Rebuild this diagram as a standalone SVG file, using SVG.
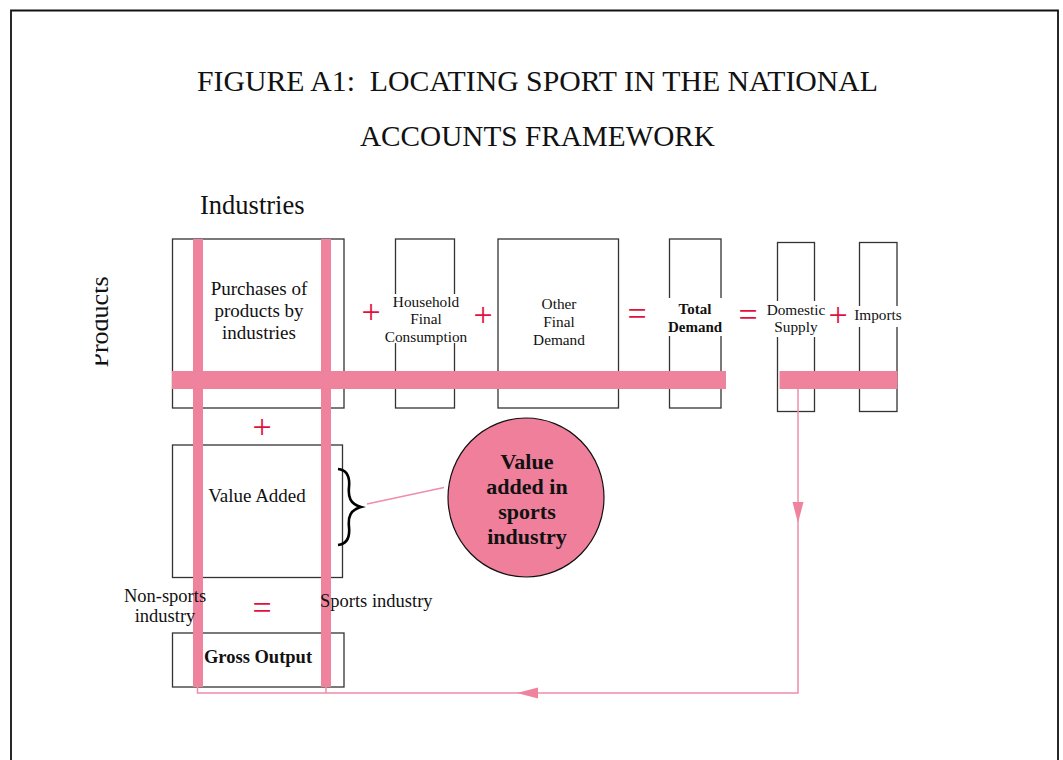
<svg xmlns="http://www.w3.org/2000/svg" width="1063" height="760" viewBox="0 0 1063 760">
  <style>
    .t { font-family: "Liberation Serif", "Times New Roman", serif; fill: #111; }
    .b { font-weight: bold; }
    .box { fill: none; stroke: #333; stroke-width: 1.3; }
    .bar { fill: #ef829d; }
    .sign { font-family: "Liberation Serif", "Times New Roman", serif; fill: #e2103f; font-size: 34px; text-anchor: middle; }
    .flow { fill: none; stroke: #f08ca8; stroke-width: 1.5; }
    .mask { fill: #fff; }
  </style>
  <defs>
    <marker id="arrow" markerUnits="userSpaceOnUse" markerWidth="22" markerHeight="12" refX="21" refY="5.5" orient="auto">
      <path d="M0,0 L21,5.5 L0,11 z" fill="#ef829d"/>
    </marker>
    <clipPath id="clipProducts">
      <rect x="95.5" y="250" width="40" height="150"/>
    </clipPath>
  </defs>

  <rect width="1063" height="760" fill="#fff"/>
  <!-- page frame -->
  <path d="M11,762 V10.5 H1058 V762" fill="none" stroke="#111" stroke-width="1.8"/>

  <!-- heading -->
  <g id="title">
    <text class="t" x="537.5" y="91" font-size="29" text-anchor="middle" textLength="681" lengthAdjust="spacingAndGlyphs">FIGURE A1:&#160; LOCATING SPORT IN THE NATIONAL</text>
    <text class="t" x="537.5" y="146" font-size="29" text-anchor="middle" textLength="355" lengthAdjust="spacingAndGlyphs">ACCOUNTS FRAMEWORK</text>
  </g>
  <g id="axis-labels">
    <text class="t" x="200" y="214" font-size="26.5">Industries</text>
    <g clip-path="url(#clipProducts)">
      <text class="t" transform="translate(108,322) rotate(-90)" font-size="26" text-anchor="middle">Products</text>
    </g>
  </g>

  <!-- boxes -->
  <g id="purchases">
    <rect class="box" x="172.5" y="239" width="171.5" height="169"/>
    <text class="t" font-size="19" text-anchor="middle"><tspan x="259" y="295">Purchases of</tspan><tspan x="259" y="317">products by</tspan><tspan x="259" y="339">industries</tspan></text>
  </g>
  <g id="household">
    <rect class="box" x="395.5" y="239" width="59" height="169"/>
    <rect class="mask" x="388" y="294" width="78" height="49"/>
    <text class="t" font-size="15.3" text-anchor="middle"><tspan x="426" y="307">Household</tspan><tspan x="426" y="324">Final</tspan><tspan x="426" y="342">Consumption</tspan></text>
  </g>
  <g id="other-demand">
    <rect class="box" x="498" y="239" width="120.5" height="169"/>
    <text class="t" font-size="15.3" text-anchor="middle"><tspan x="559" y="309">Other</tspan><tspan x="559" y="327">Final</tspan><tspan x="559" y="345">Demand</tspan></text>
  </g>
  <g id="total-demand">
    <rect class="box" x="669.5" y="239" width="51.5" height="169"/>
    <rect class="mask" x="664" y="298" width="63" height="38"/>
    <text class="t b" font-size="15" text-anchor="middle"><tspan x="695" y="314">Total</tspan><tspan x="695" y="332">Demand</tspan></text>
  </g>
  <g id="domestic-supply">
    <rect class="box" x="777.5" y="242.5" width="37" height="169"/>
    <rect class="mask" x="764" y="301" width="64" height="36"/>
    <text class="t" font-size="15.3" text-anchor="middle"><tspan x="796" y="315">Domestic</tspan><tspan x="796" y="332">Supply</tspan></text>
  </g>
  <g id="imports">
    <rect class="box" x="859.5" y="242.5" width="37.5" height="169"/>
    <rect class="mask" x="852" y="306" width="52" height="21"/>
    <text class="t" font-size="15.3" x="878" y="320" text-anchor="middle">Imports</text>
  </g>
  <g id="value-added">
    <rect class="box" x="172.5" y="445" width="170" height="132.5"/>
    <text class="t" font-size="19" x="257" y="502" text-anchor="middle">Value Added</text>
  </g>
  <g id="gross-output">
    <rect class="box" x="172.5" y="633" width="171.5" height="54"/>
    <text class="t b" font-size="18.5" x="258" y="663" text-anchor="middle">Gross Output</text>
  </g>

  <!-- operators -->
  <g id="operators">
    <text class="sign" x="371" y="323">+</text>
    <text class="sign" x="483" y="326">+</text>
    <text class="sign" x="637" y="325">=</text>
    <text class="sign" x="748" y="326">=</text>
    <text class="sign" x="838" y="326">+</text>
    <text class="sign" x="262" y="438">+</text>
    <text class="sign" x="262" y="619">=</text>
  </g>

  <!-- highlight bars: sports row and industry columns -->
  <g id="highlights">
    <rect class="bar" x="193" y="239" width="10" height="448"/>
    <rect class="bar" x="321" y="239" width="10" height="448"/>
    <rect class="bar" x="172" y="371" width="554" height="18"/>
    <rect class="bar" x="779.5" y="371" width="118" height="18"/>
  </g>

  <g id="side-labels">
    <text class="t" font-size="18.5" text-anchor="middle"><tspan x="165" y="602">Non-sports</tspan><tspan x="165" y="622">industry</tspan></text>
    <text class="t" font-size="18.5" x="320" y="607">Sports industry</text>
  </g>

  <!-- brace and callout -->
  <g id="callout">
    <path d="M338,469 C347,470 350,477 349,487 C348,497 350,504 361,507 C350,510 348,517 349,527 C350,537 347,544 338,545" fill="none" stroke="#000" stroke-width="2.6"/>
    <line x1="367" y1="504" x2="444" y2="487.5" stroke="#f08ca8" stroke-width="1.3"/>
    <ellipse cx="526" cy="497.5" rx="78" ry="79.5" fill="#ef7f9b" stroke="#111" stroke-width="1.2"/>
    <text class="t b" font-size="22" text-anchor="middle"><tspan x="527" y="469">Value</tspan><tspan x="527" y="494">added in</tspan><tspan x="527" y="519">sports</tspan><tspan x="527" y="544">industry</tspan></text>
  </g>

  <!-- flow from domestic supply back to gross output -->
  <g id="connectors">
    <path class="flow" d="M798,389 V523" marker-end="url(#arrow)"/>
    <path class="flow" d="M798,523 V693 H517" marker-end="url(#arrow)"/>
    <path class="flow" d="M517,693 H197.5 V686"/>
    <path class="flow" d="M326,693 V687"/>
  </g>
</svg>
